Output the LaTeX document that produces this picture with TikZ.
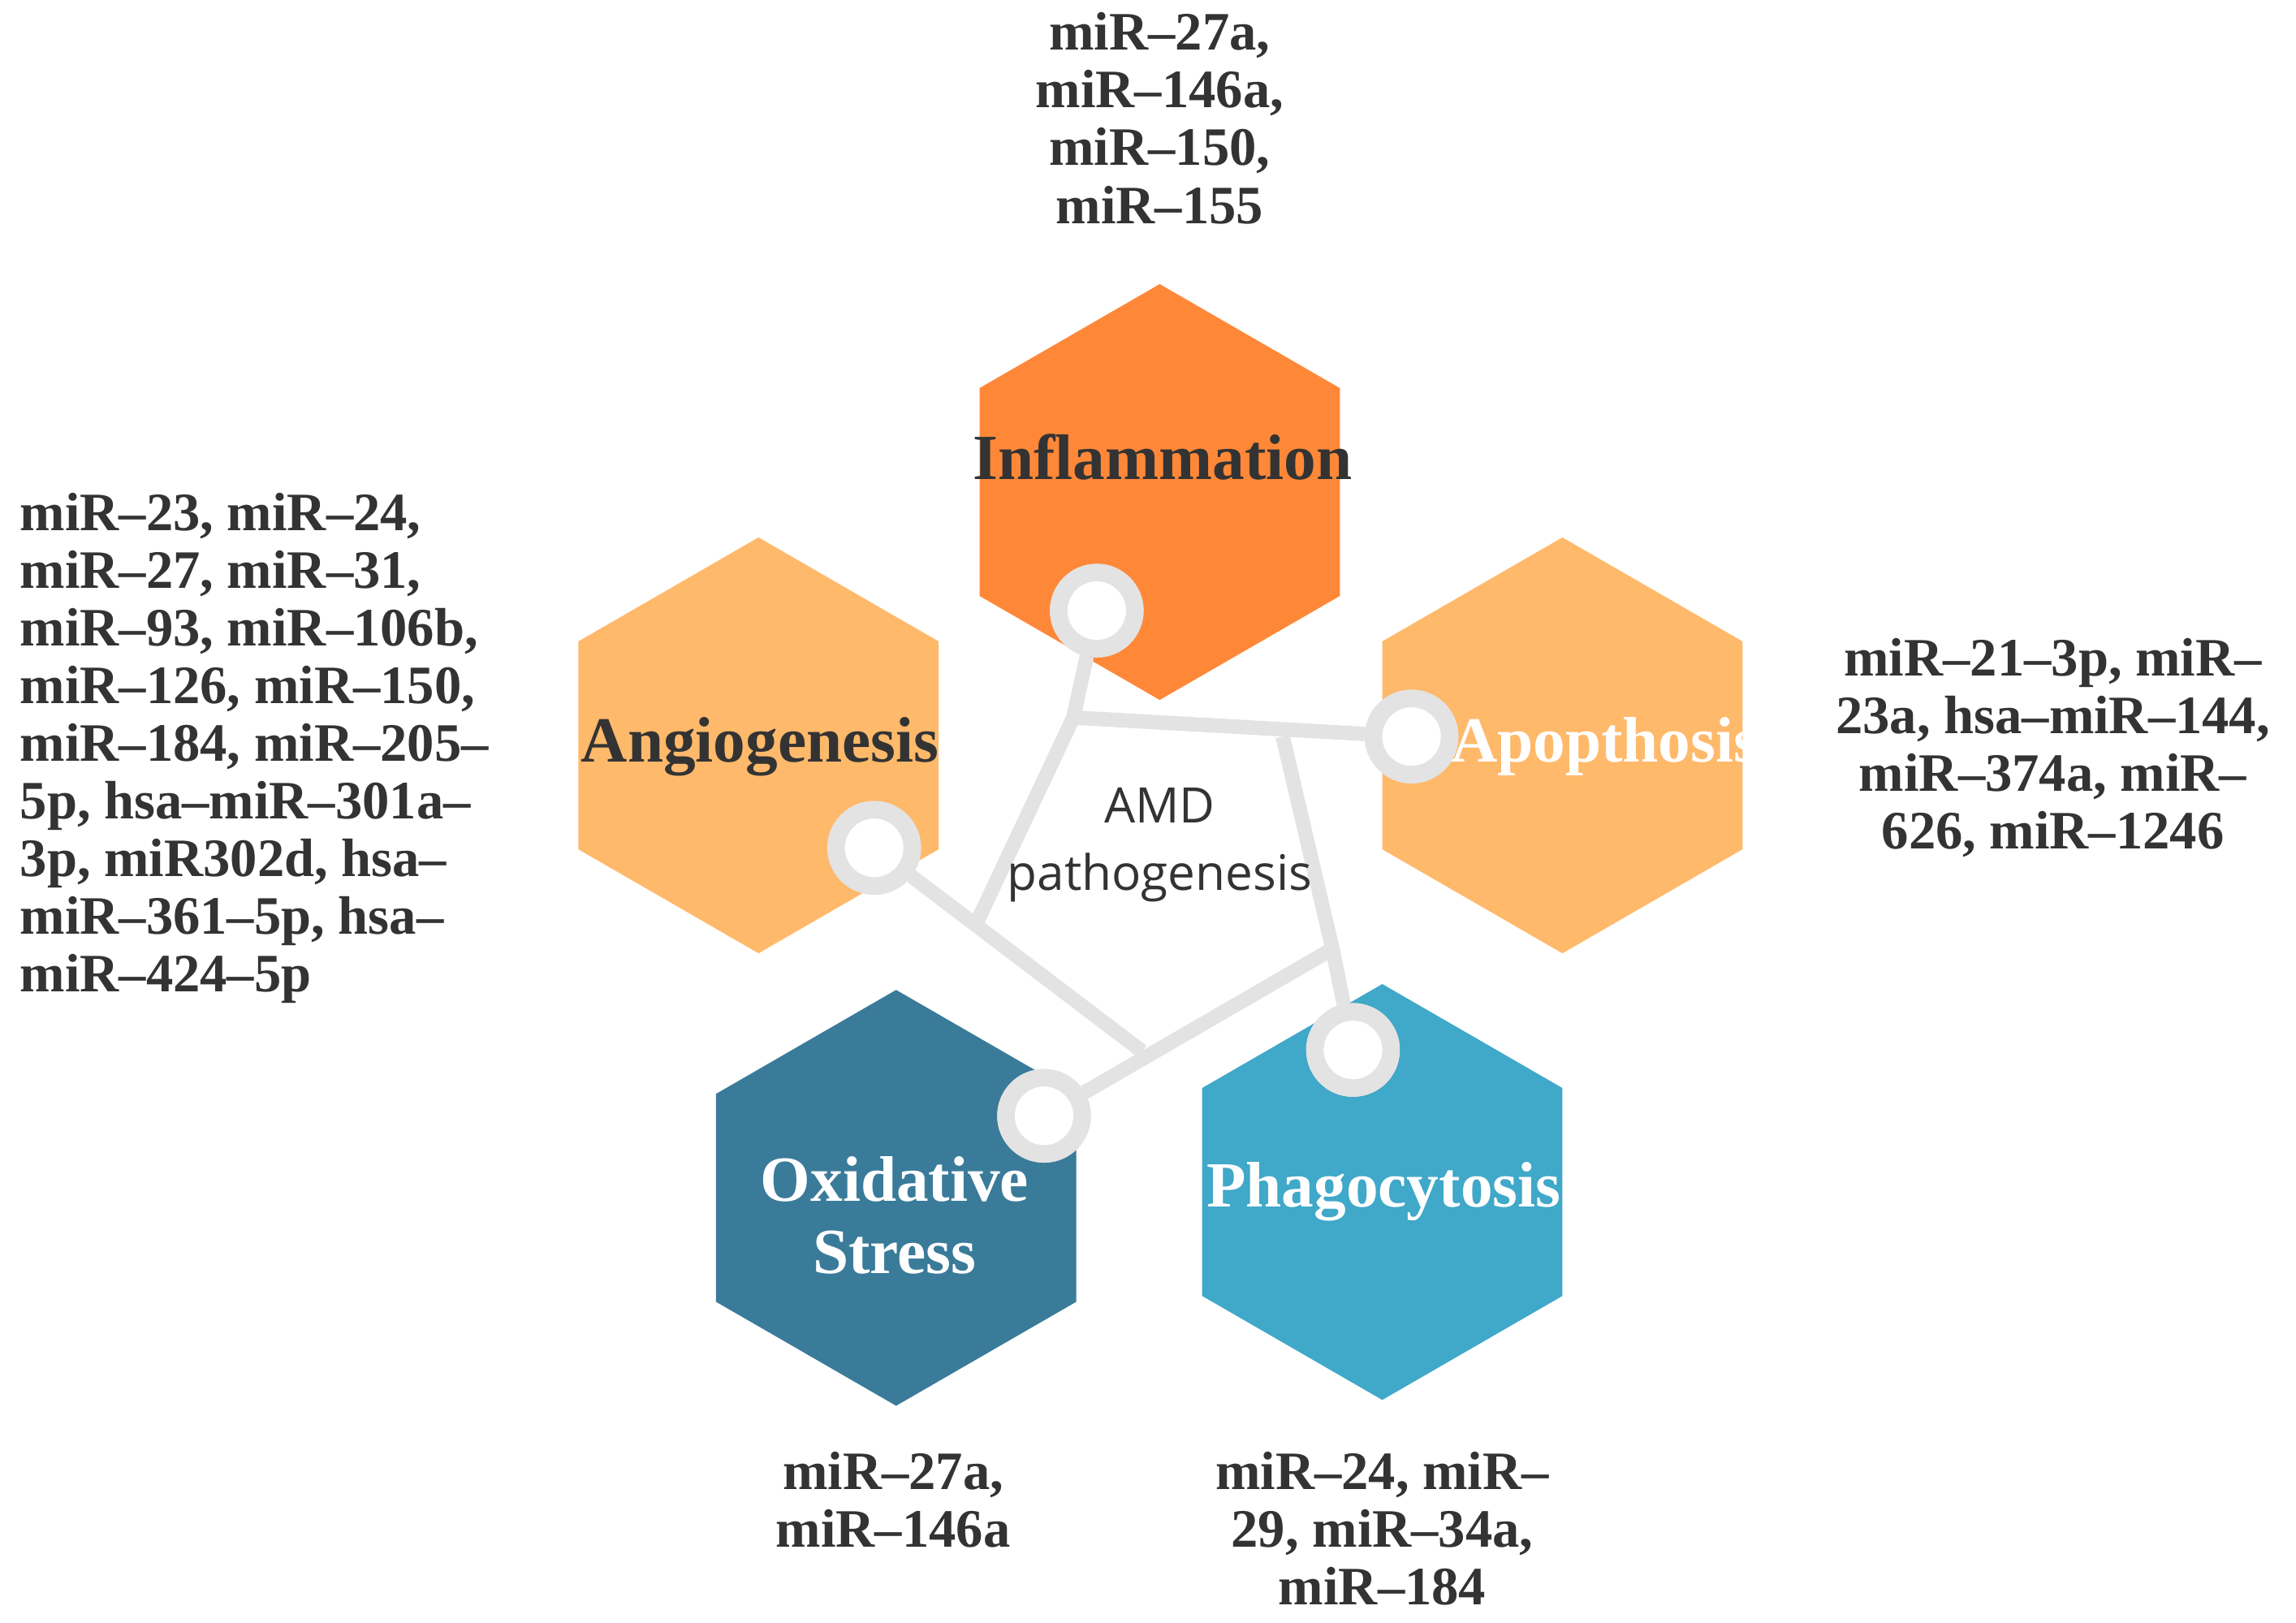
\documentclass[tikz,border=0pt]{standalone}
\usepackage{fontspec}
\setmainfont{Liberation Serif}
\newfontfamily\sans{Open Sans}
\begin{document}
\begin{tikzpicture}[x=0.01cm,y=-0.01cm,
  lbl/.style={font=\bfseries\fontsize{10.5}{11.2}\selectfont,text=black!80,inner sep=0pt,align=center},
  hname/.style={font=\bfseries\fontsize{12.5}{14}\selectfont,inner sep=0pt,align=center},
  dot/.style={circle,draw=black!11,line width=3.4pt,fill=white,minimum size=0.52cm,inner sep=0pt},
  link/.style={draw=black!11,line width=2.8pt}]
\useasboundingbox[fill=white] (0,0) rectangle (1568,1108);
\definecolor{orA}{HTML}{FF8838}
\definecolor{orB}{HTML}{FFB96B}
\definecolor{blD}{HTML}{3A7B9A}
\definecolor{blL}{HTML}{40A8C8}
\newcommand{\hexa}[3]{\fill[#3,shift={(#1,#2)}] (0,-142) -- (123,-71) -- (123,71) -- (0,142) -- (-123,71) -- (-123,-71) -- cycle;}
\hexa{792}{336}{orA}
\hexa{518}{509}{orB}
\hexa{1067}{509}{orB}
\hexa{612}{818}{blD}
\hexa{944}{814}{blL}
\node[hname,text=black!80] (hi) at (794,312) {Inflammation};
\node[hname,text=black!80] (ha) at (519,510) {Angiogenesis};
\node[hname,text=white] (hp) at (1096,510) {Apopthosis};
\node[hname,text=white] (ho) at (611,830) {Oxidative\\Stress};
\node[hname,text=white] (hf) at (945,814) {Phagocytosis};
% network
\coordinate (A) at (733,490);
\coordinate (B) at (876,503);
\coordinate (D) at (910,648);
\coordinate (E) at (780,718);
\coordinate (F) at (668,628);
\node[dot] (c1) at (749,417) {};
\node[dot] (c2) at (964,503) {};
\node[dot] (c3) at (597,579) {};
\node[dot] (c4) at (713,762) {};
\node[dot] (c5) at (924,717) {};
\begin{scope}[on background layer/.style={}]
\end{scope}
\path[link] (c1) -- (A) -- (c2);
\path[link] (B) -- (D) -- (c5);
\path[link] (D) -- (c4);
\path[link] (c3) -- (E);
\path[link] (A) -- (F);
\node[dot] at (749,417) {};
\node[dot] at (964,503) {};
\node[dot] at (597,579) {};
\node[dot] at (713,762) {};
\node[dot] at (924,717) {};
\node[font=\sans\fontsize{9.5}{13}\selectfont,align=center,text=black!80] (amd) at (792,577) {AMD\\pathogenesis};
% labels
\node[lbl,anchor=north] (t1) at (792,8) {miR–27a,\\miR–146a,\\miR–150,\\miR–155};
\node[lbl,anchor=north west,align=left] (t2) at (13,336) {miR–23, miR–24,\\miR–27, miR–31,\\miR–93, miR–106b,\\miR–126, miR–150,\\miR–184, miR–205–\\5p, hsa–miR–301a–\\3p, miR302d, hsa–\\miR–361–5p, hsa–\\miR–424–5p};
\node[lbl,anchor=north] (t3) at (1402,435) {miR–21–3p, miR–\\23a, hsa–miR–144,\\miR–374a, miR–\\626, miR–1246};
\node[lbl,anchor=north] (t4) at (610,991) {miR–27a,\\miR–146a};
\node[lbl,anchor=north] (t5) at (944,991) {miR–24, miR–\\29, miR–34a,\\miR–184};
\end{tikzpicture}
\end{document}
